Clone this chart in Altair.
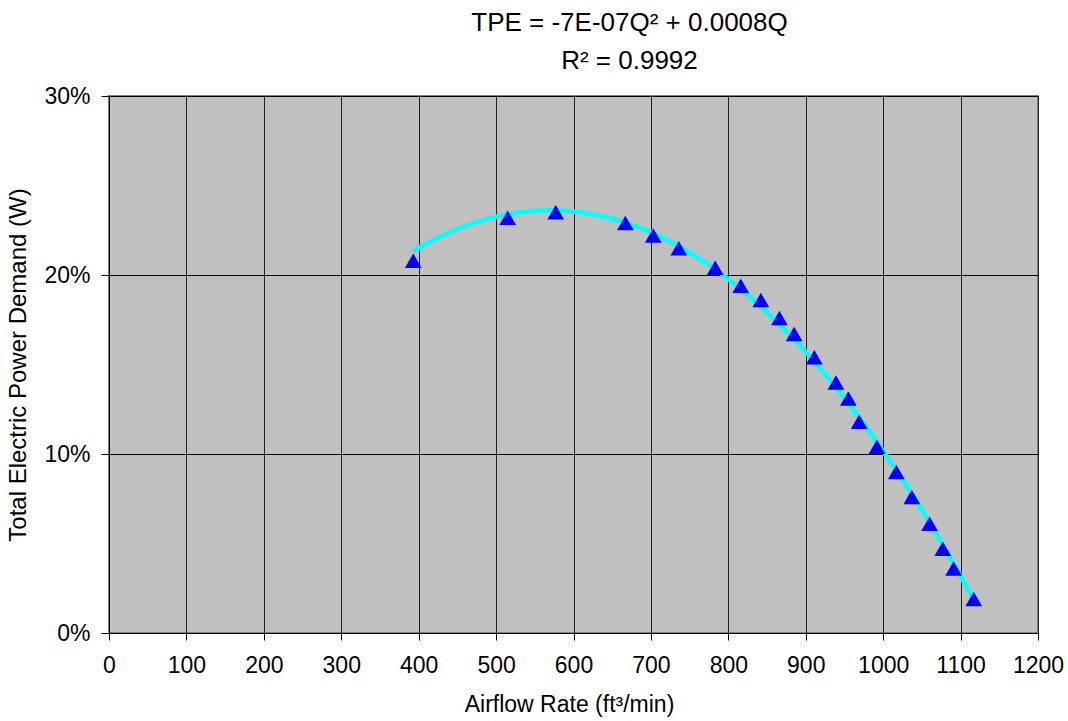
import altair as alt
import numpy as np
import pandas as pd

# Measured data points (airflow in ft3/min, TPE as percent)
airflow = [393, 515, 577, 667, 703, 736, 783, 816, 842, 866, 885, 911,
           939, 955, 969, 992, 1017, 1037, 1060, 1077, 1091, 1117]
tpe_pct = [20.8, 23.2, 23.5, 22.9, 22.2, 21.5, 20.4, 19.4, 18.6, 17.6, 16.7, 15.4,
           14.0, 13.1, 11.8, 10.4, 9.0, 7.6, 6.1, 4.7, 3.6, 1.9]

x_ticks = list(range(0, 1201, 100))
y_ticks = [0, 0.1, 0.2, 0.3]

title_lines = ["TPE = -7E-07Q² + 0.0008Q", "R² = 0.9992"]
x_title = "Airflow Rate (ft³/min)"
y_title = "Total Electric Power Demand (W)"

df = pd.DataFrame({"Q": airflow, "TPE": [v / 100 for v in tpe_pct]})

# Polynomial trendline (order 2, intercept fixed at 0) fitted to the data
Qa = np.array(airflow, dtype=float)
Ta = df["TPE"].to_numpy()
A = np.column_stack([Qa ** 2, Qa])
coef, *_ = np.linalg.lstsq(A, Ta, rcond=None)
qgrid = np.linspace(Qa.min(), Qa.max(), 200)
fit = pd.DataFrame({"Q": qgrid, "TPE": coef[0] * qgrid ** 2 + coef[1] * qgrid})

FONT = "Liberation Sans"

xscale = alt.Scale(domain=[0, 1200], nice=False, zero=False)
yscale = alt.Scale(domain=[0, 0.3], nice=False)

xaxis = alt.Axis(values=x_ticks, format="d", title=x_title, grid=True,
                 gridColor="#202020", gridWidth=1, domainColor="black",
                 tickColor="black", tickSize=7, labelFontSize=23, titleFontSize=23,
                 labelFont=FONT, titleFont=FONT, labelColor="black",
                 titleColor="black", titleFontWeight="normal",
                 labelPadding=14, titlePadding=16, labelFlush=False,
                 titleX=460)
yaxis = alt.Axis(values=y_ticks, format=".0%", title=y_title, grid=True,
                 gridColor="black", gridWidth=1, domainColor="black",
                 tickColor="black", tickSize=8, labelFontSize=23, titleFontSize=24,
                 labelFont=FONT, titleFont=FONT, labelColor="black",
                 titleColor="black", titleFontWeight="normal", labelPadding=11,
                 titlePadding=13)

line = alt.Chart(fit).mark_line(color="#00FFFF", strokeWidth=4.5).encode(
    x=alt.X("Q:Q", scale=xscale, axis=xaxis),
    y=alt.Y("TPE:Q", scale=yscale, axis=yaxis),
)

points = alt.Chart(df).mark_point(shape="triangle-up", filled=True, color="#0000FF",
                                  size=280, opacity=1).encode(
    x=alt.X("Q:Q", scale=xscale),
    y=alt.Y("TPE:Q", scale=yscale),
)

chart = alt.layer(line, points).properties(
    width=929,
    height=537,
    background="white",
    title=alt.TitleParams(text=title_lines, font=FONT, fontSize=26,
                          fontWeight="normal", color="black", anchor="middle",
                          dx=56, offset=11, lineHeight=38),
    padding={"left": 109, "top": 96, "right": 30, "bottom": 88},
    autosize=alt.AutoSizeParams(type="none"),
).configure_view(
    fill="#C0C0C0", stroke="#808080", strokeWidth=2
)

chart.save("out.html", embed_options={"renderer": "svg", "actions": False})
